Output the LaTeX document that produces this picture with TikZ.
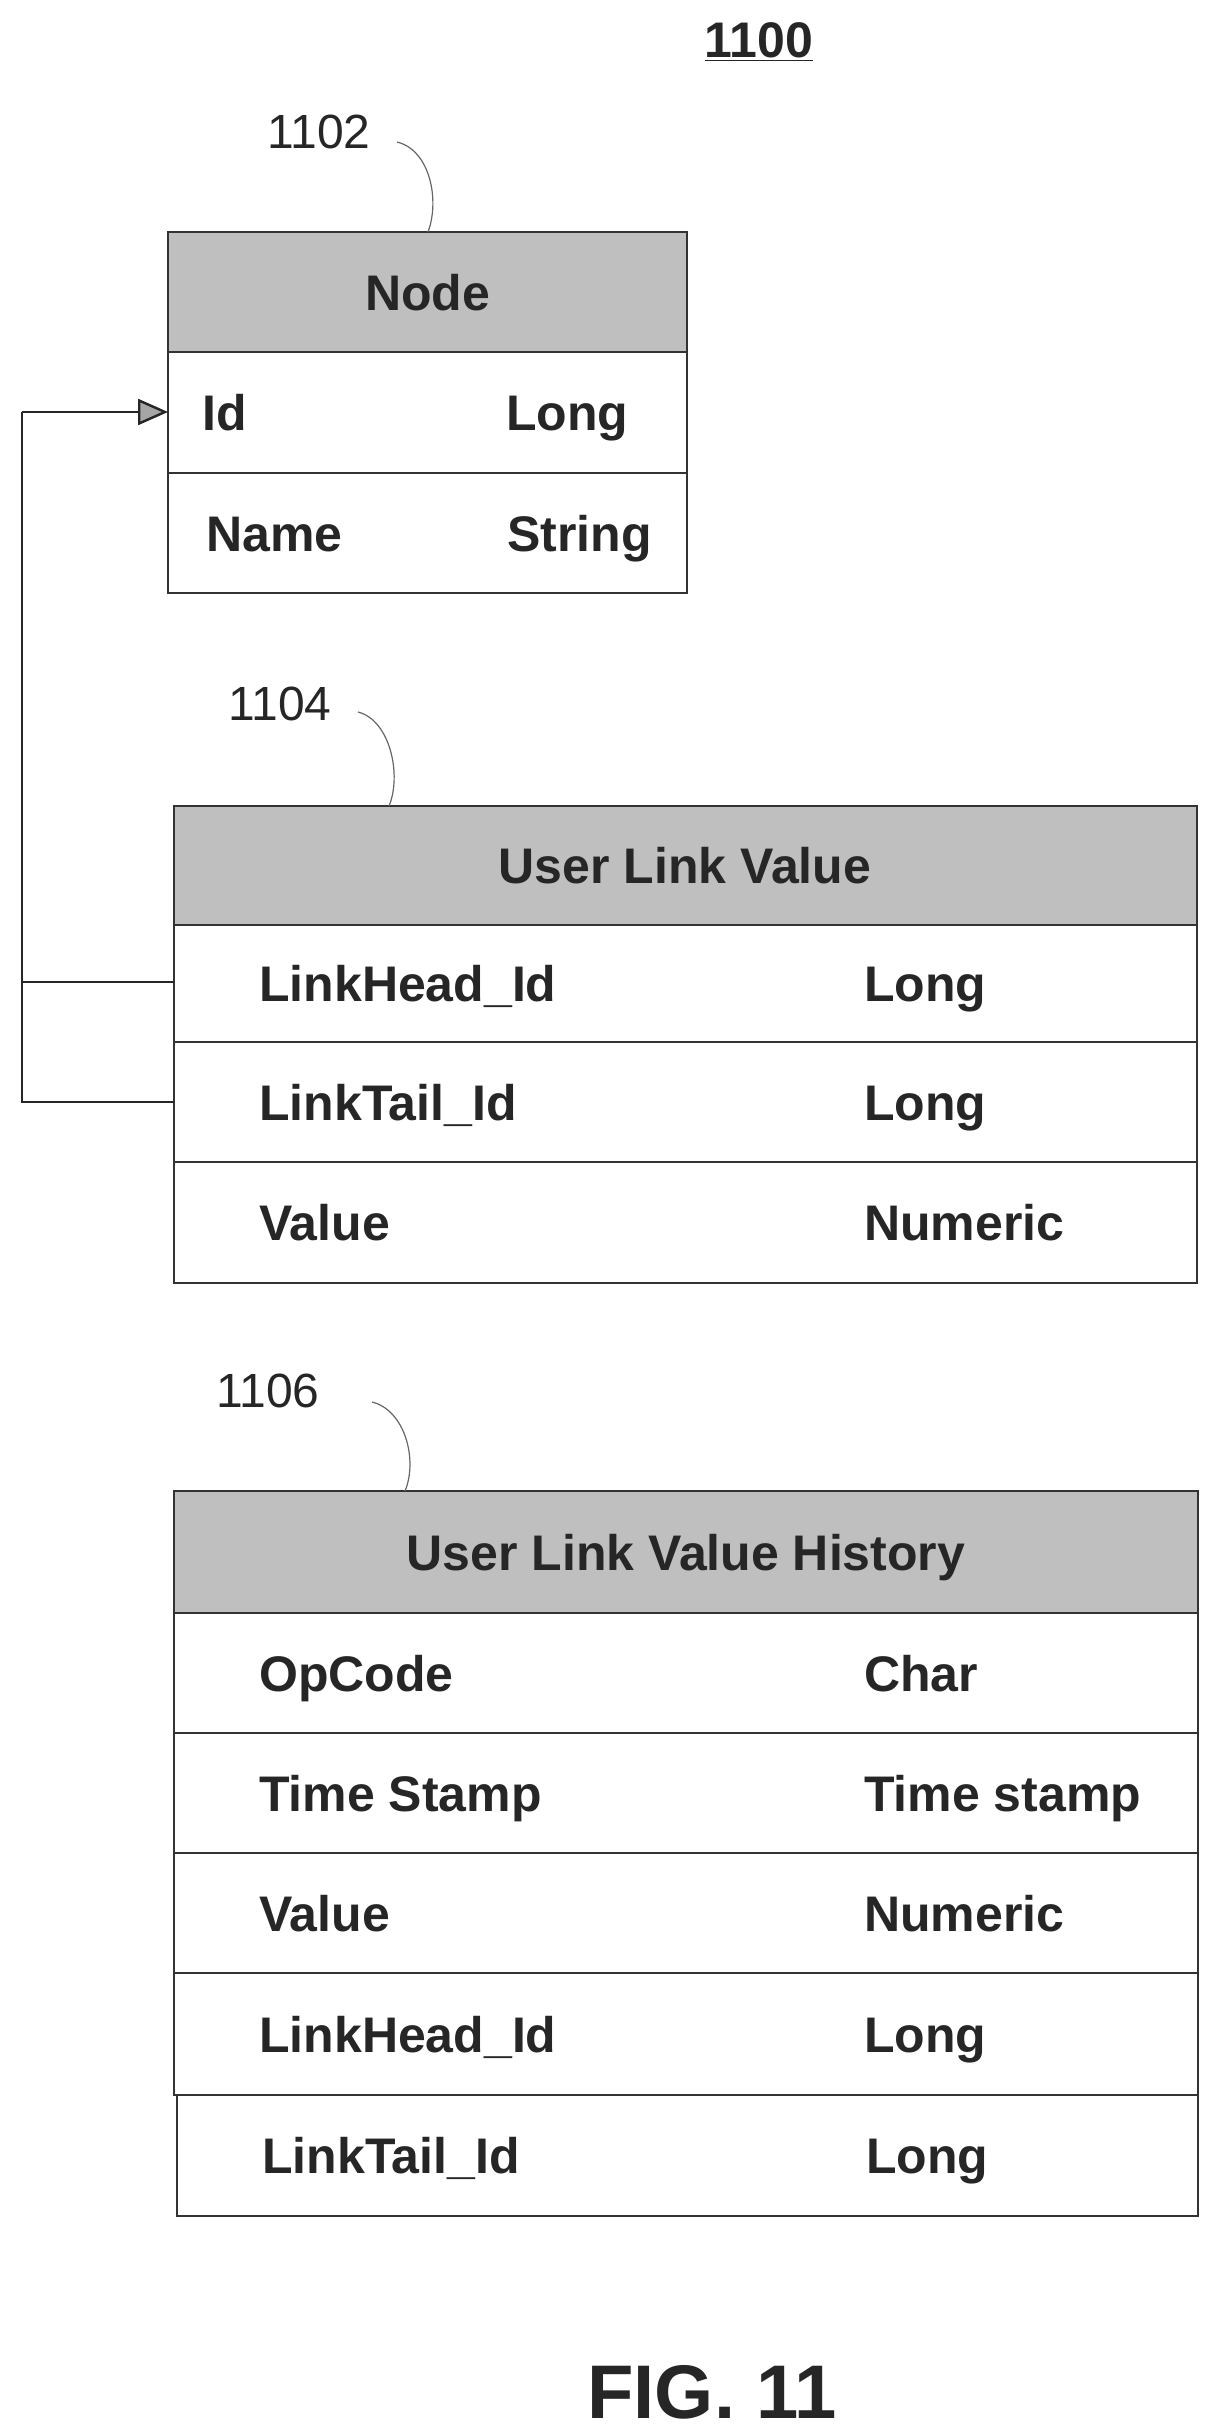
\documentclass[tikz,border=0pt]{standalone}
\usepackage{fontspec}
\setmainfont{Liberation Sans}
\usetikzlibrary{arrows.meta}
\begin{document}
\begin{tikzpicture}[x=1pt,y=-1pt,
  cell/.style={draw=black!80,line width=2.4pt},
  head/.style={cell,fill=black!25},
  txt/.style={font=\fontsize{50}{54}\selectfont\bfseries,text=black!85,anchor=base west,inner sep=0,yshift=-18pt},
  ttl/.style={font=\fontsize{50}{54}\selectfont\bfseries,text=black!85,anchor=base,inner sep=0,yshift=-18pt},
  lbl/.style={font=\fontsize{48}{52}\selectfont,text=black!85,inner sep=0},
  lead/.style={draw=black!60,line width=1.2pt},
  conn/.style={draw=black!85,line width=2.4pt}]
\useasboundingbox (0,0) rectangle (1214,2435);
% title
\node[ttl] (t1100) at (759,40) {\underline{1100}};
% Node table
\draw[head] (168,232) rectangle (687,352);
\draw[cell] (168,352) rectangle (687,473);
\draw[cell] (168,473) rectangle (687,593);
\node[ttl] (nodeT) at (427.5,292) {Node};
\node[txt] (nid) at (202,412) {Id};
\node[txt] (nidt) at (506,412) {Long};
\node[txt] (nname) at (206,533) {Name};
\node[txt] (nnamet) at (507,533) {String};
\coordinate (nIdIn) at (168,412);
\node[lbl] (l1102) at (319,132) {1102};
\coordinate (a1102) at (397,142);
\coordinate (b1102) at (428,232);
\draw[lead] (a1102) .. controls (430,150) and (440,200) .. (b1102);
% User Link Value
\draw[head] (174,806) rectangle (1197,925);
\draw[cell] (174,925) rectangle (1197,1042);
\draw[cell] (174,1042) rectangle (1197,1162);
\draw[cell] (174,1162) rectangle (1197,1283);
\node[ttl] (ulvT) at (685,865) {User Link Value};
\node[txt] (u1) at (259,983) {LinkHead\_Id};
\node[txt] (u1t) at (864,983) {Long};
\node[txt] (u2) at (259,1102) {LinkTail\_Id};
\node[txt] (u2t) at (864,1102) {Long};
\node[txt] (u3) at (259,1222) {Value};
\node[txt] (u3t) at (864,1222) {Numeric};
\coordinate (uH) at (174,982);
\coordinate (uT) at (174,1102);
\coordinate (cH) at (22,982);
\coordinate (cT) at (22,1102);
\coordinate (cTop) at (22,412);
\node[lbl] (l1104) at (280,704) {1104};
\coordinate (a1104) at (358,712);
\coordinate (b1104) at (389,806);
\draw[lead] (a1104) .. controls (390,720) and (402,775) .. (b1104);
\draw[conn] (uH) -- (cH);
\draw[conn] (uT) -- (cT) -- (cTop);
\draw[conn,-{Triangle[length=30pt,width=26pt,fill=black!35]}] (cTop) -- (nIdIn);
% User Link Value History
\draw[head] (174,1491) rectangle (1198,1613);
\draw[cell] (174,1613) rectangle (1198,1733);
\draw[cell] (174,1733) rectangle (1198,1853);
\draw[cell] (174,1853) rectangle (1198,1973);
\draw[cell] (174,1973) rectangle (1198,2095);
\draw[cell] (177,2095) rectangle (1198,2216);
\node[ttl] (ulvhT) at (686,1552) {User Link Value History};
\node[txt] (h1) at (259,1673) {OpCode};
\node[txt] (h1t) at (864,1673) {Char};
\node[txt] (h2) at (259,1793) {Time Stamp};
\node[txt] (h2t) at (864,1793) {Time stamp};
\node[txt] (h3) at (259,1913) {Value};
\node[txt] (h3t) at (864,1913) {Numeric};
\node[txt] (h4) at (259,2034) {LinkHead\_Id};
\node[txt] (h4t) at (864,2034) {Long};
\node[txt] (h5) at (262,2155) {LinkTail\_Id};
\node[txt] (h5t) at (866,2155) {Long};
\node[lbl] (l1106) at (268,1391) {1106};
\coordinate (a1106) at (372,1402);
\coordinate (b1106) at (405,1491);
\draw[lead] (a1106) .. controls (405,1410) and (418,1460) .. (b1106);
% figure label
\node[font=\fontsize{76}{80}\selectfont\bfseries,text=black!85,inner sep=0] (fig) at (712,2392) {FIG. 11};
\end{tikzpicture}
\end{document}
